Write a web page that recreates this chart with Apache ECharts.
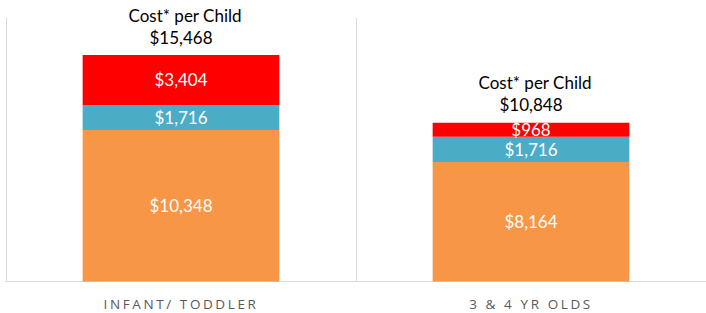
<!DOCTYPE html>
<html><head><meta charset="utf-8">
<script src="https://cdn.jsdelivr.net/npm/echarts@6/dist/echarts.min.js"></script>
<style>html,body{margin:0;padding:0;background:#fff}#c{width:706px;height:313px}</style>
</head><body><div id="c"></div>
<script>
var categories = ['INFANT/ TODDLER', '3 & 4 YR OLDS'];
var baseCost = [10348, 8164];
var middleCost = [1716, 1716];
var topCost = [3404, 968];
var totalTitle = 'Cost* per Child';

function money(v){ return '$' + v.toLocaleString('en-US'); }
var totals = categories.map(function(_, i){ return baseCost[i] + middleCost[i] + topCost[i]; });

var chart = echarts.init(document.getElementById('c'), null, {renderer: 'svg'});
var inLabel = {show: true, position: 'inside', color: '#fff', fontFamily: 'Lato', fontSize: 17,
  formatter: function(p){ return money(p.value); }};
chart.setOption({
  animation: false,
  grid: {left: 6, width: 704, top: 18, bottom: 31.5, containLabel: false},
  xAxis: {type: 'category', data: categories,
    axisLine: {lineStyle: {color: '#d9d9d9'}}, axisTick: {show: false},
    splitLine: {show: true, lineStyle: {color: '#d9d9d9'}},
    axisLabel: {color: '#595959', fontFamily: 'Open Sans', fontSize: 13.5, margin: 15}},
  yAxis: {type: 'value', min: 0, max: 18000, show: false, splitLine: {show: false}},
  series: [
    {type: 'bar', stack: 's', data: baseCost, barWidth: '56.2%', itemStyle: {color: '#F79646'}, label: inLabel},
    {type: 'bar', stack: 's', data: middleCost, itemStyle: {color: '#4BACC6'}, label: inLabel},
    {type: 'bar', stack: 's', data: topCost, itemStyle: {color: '#FF0000'}, label: inLabel},
    {type: 'bar', stack: 's', data: [0, 0], itemStyle: {color: 'transparent'},
      label: {show: true, position: 'top', distance: 7, color: '#000', fontFamily: 'Lato', fontSize: 17, lineHeight: 22,
        rich: {t: {fontFamily: 'Lato', fontSize: 17, color: '#000', lineHeight: 22, padding: [0, 0, 0, 8]}},
        formatter: function(p){ return '{t|' + totalTitle + '}\n' + money(totals[p.dataIndex]); }}}
  ]
});
function spacing(){
  document.querySelectorAll('#c text').forEach(function(t){
    if (categories.indexOf(t.textContent) >= 0) t.style.letterSpacing = '2.6px';
  });
}
spacing();
chart.on('finished', spacing);
</script></body></html>
